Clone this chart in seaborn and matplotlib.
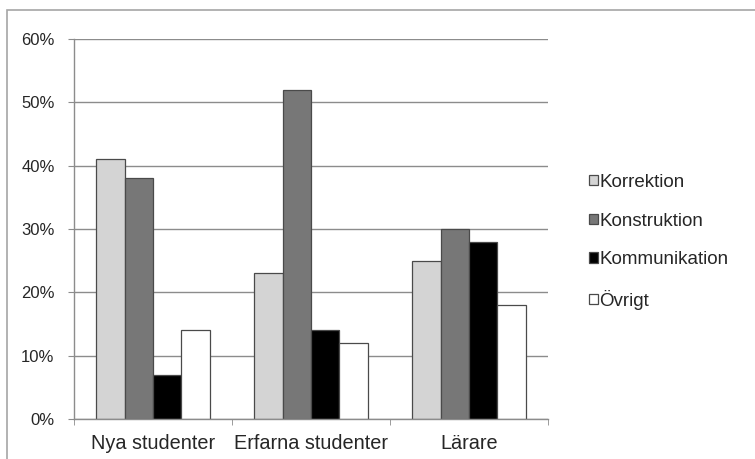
#!/usr/bin/env python3
import numpy as np
import pandas as pd
import seaborn as sns
import matplotlib.pyplot as plt
from matplotlib.patches import Rectangle

groups = ['Nya studenter', 'Erfarna studenter', 'Lärare']
series = ['Korrektion', 'Konstruktion', 'Kommunikation', 'Övrigt']
korrektion = [41, 23, 25]
konstruktion = [38, 52, 30]
kommunikation = [7, 14, 28]
ovrigt = [14, 12, 18]
colors = ['#d4d4d4', '#777777', '#000000', '#ffffff']

rows = []
for name, vals in zip(series, [korrektion, konstruktion, kommunikation, ovrigt]):
    for g, v in zip(groups, vals):
        rows.append({'grupp': g, 'kategori': name, 'andel': v / 100.0})
df = pd.DataFrame(rows)

sns.set_style('white')
plt.rcParams['font.family'] = ['Liberation Sans', 'DejaVu Sans']

fig = plt.figure(figsize=(7.55, 4.59), dpi=100)
# grey frame round the whole chart, as in the spreadsheet export
fig.patches.append(Rectangle((7 / 755, -0.1), 1.2, 1 - 10 / 459 + 0.1,
                             transform=fig.transFigure, fill=False,
                             edgecolor='#a6a6a6', linewidth=1.2))
ax = fig.add_axes([74 / 755, 1 - 419 / 459, (548 - 74) / 755, (419 - 39) / 459])

sns.barplot(data=df, x='grupp', y='andel', hue='kategori', hue_order=series,
            order=groups, palette=colors, width=0.72, saturation=1,
            edgecolor='#4a4a4a', linewidth=0.9, ax=ax, legend=True)

ax.set_ylim(0, 0.6)
ax.set_xlim(-0.5, 2.5)
ax.set_yticks(np.arange(0, 0.61, 0.1))
ax.set_yticklabels(['%d%%' % v for v in range(0, 61, 10)], fontsize=12)
ax.yaxis.grid(True, color='#8c8c8c', linewidth=1)
ax.set_axisbelow(True)
ax.set_xlabel('')
ax.set_ylabel('')
ax.tick_params(axis='x', length=0, labelsize=14.3, pad=11)
ax.set_xticks([-0.5, 0.5, 1.5, 2.5], minor=True)
ax.tick_params(axis='x', which='minor', length=4, color='#8c8c8c', direction='out', bottom=True)
ax.tick_params(axis='y', length=4, color='#8c8c8c', direction='out', left=True, pad=10)
for s in ['top', 'right']:
    ax.spines[s].set_visible(False)
for s in ['left', 'bottom']:
    ax.spines[s].set_color('#8c8c8c')
    ax.spines[s].set_linewidth(1)

handles, labels = ax.get_legend_handles_labels()
ax.get_legend().remove()
fig.legend(handles, labels, loc='center left', bbox_to_anchor=(0.768, 0.473),
           frameon=False, fontsize=13.5, handlelength=0.45, handleheight=0.45,
           handletextpad=0.1, labelspacing=1.15, borderpad=0)

fig.savefig('out.png', dpi=100)
